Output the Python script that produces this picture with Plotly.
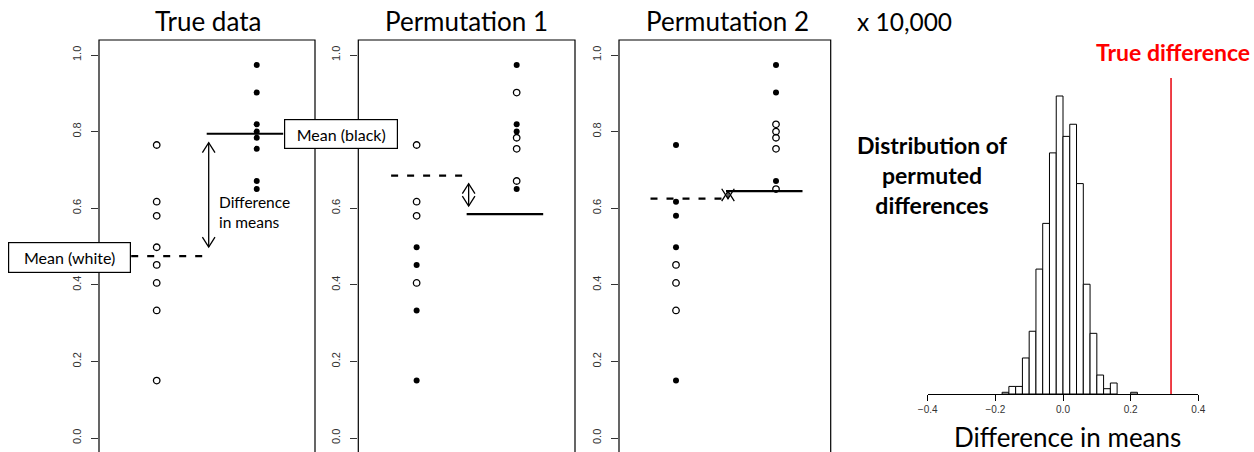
import plotly.graph_objects as go

# ---------------- data ----------------
col1_values = [0.765, 0.617, 0.580, 0.498, 0.452, 0.405, 0.333, 0.150]   # white group (true data)
col2_values = [0.974, 0.902, 0.819, 0.800, 0.784, 0.755, 0.671, 0.650]   # black group (true data)

# filled (black) flags for each panel
true_col1_black = [False] * 8
true_col2_black = [True] * 8
perm1_col1_black = [False, False, False, True, True, False, True, True]
perm1_col2_black = [True, False, True, True, False, False, False, True]
perm2_col1_black = [True, True, True, True, False, False, False, True]
perm2_col2_black = [True, True, False, False, False, False, True, False]

panel_titles = ["True data", "Permutation 1", "Permutation 2"]
y_tick_vals = [0.0, 0.2, 0.4, 0.6, 0.8, 1.0]
y_tick_text = ["0.0", "0.2", "0.4", "0.6", "0.8", "1.0"]

hist_bin_centers = [-0.17, -0.15, -0.13, -0.11, -0.09, -0.07, -0.05, -0.03, -0.01,
                    0.01, 0.03, 0.05, 0.07, 0.09, 0.11, 0.13, 0.15, 0.21]
hist_counts = [9, 40, 40, 190, 331, 659, 900, 1272, 1572,
               1359, 1423, 1110, 579, 320, 100, 28, 58, 9]
hist_tick_vals = [-0.4, -0.2, 0.0, 0.2, 0.4]
hist_tick_text = ["\u22120.4", "\u22120.2", "0.0", "0.2", "0.4"]

# ---------------- layout helpers ----------------
W, H = 1254, 452
def fx(p):
    return p / W
def fy(p):
    return 1 - p / H

FONT = "Lato"
RFONT = "Liberation Sans"

panels = [
    dict(px=(99, 315), xr=(0.423, 2.583), flags=(true_col1_black, true_col2_black), gap=0.0235),
    dict(px=(358.3, 575), xr=(0.417, 2.583), flags=(perm1_col1_black, perm1_col2_black), gap=0.021),
    dict(px=(619, 830.7), xr=(0.43, 2.547), flags=(perm2_col1_black, perm2_col2_black), gap=0.0),
]
y_range = [(438 - 452) / 383, (438 - 40) / 383]

fig = go.Figure()
shapes = []
annotations = []
arrow_x = 1.52
hw, hl = 0.063, 0.026

for i, p in enumerate(panels):
    n = "" if i == 0 else str(i + 1)
    xa, ya = "x" + n, "y" + n
    f1, f2 = p["flags"]
    xs = [1] * len(col1_values) + [2] * len(col2_values)
    ys = col1_values + col2_values
    fl = f1 + f2
    open_x = [x for x, f in zip(xs, fl) if not f]
    open_y = [y for y, f in zip(ys, fl) if not f]
    fill_x = [x for x, f in zip(xs, fl) if f]
    fill_y = [y for y, f in zip(ys, fl) if f]
    fig.add_trace(go.Scatter(x=open_x, y=open_y, mode="markers", xaxis=xa, yaxis=ya,
                             marker=dict(symbol="circle-open", size=6.5, color="black",
                                         line=dict(width=1.3, color="black")),
                             showlegend=False, hoverinfo="skip"))
    fig.add_trace(go.Scatter(x=fill_x, y=fill_y, mode="markers", xaxis=xa, yaxis=ya,
                             marker=dict(symbol="circle", size=6, color="black"),
                             showlegend=False, hoverinfo="skip"))
    m_open = sum(open_y) / len(open_y)
    m_fill = sum(fill_y) / len(fill_y)
    fig.add_trace(go.Scatter(x=[0.745, 1.5], y=[m_open, m_open], mode="lines", xaxis=xa, yaxis=ya,
                             line=dict(color="black", width=2.2, dash="7px,9px"),
                             showlegend=False, hoverinfo="skip"))
    fig.add_trace(go.Scatter(x=[1.5, 2.265], y=[m_fill, m_fill], mode="lines", xaxis=xa, yaxis=ya,
                             line=dict(color="black", width=2.2),
                             showlegend=False, hoverinfo="skip"))
    # double-headed arrow between means
    hi, lo = max(m_open, m_fill), min(m_open, m_fill)
    yt, yb = hi - p["gap"], lo + p["gap"]
    shapes.append(dict(type="line", xref=xa, yref=ya, x0=arrow_x, x1=arrow_x, y0=yb, y1=yt,
                       line=dict(color="black", width=1.3)))
    shapes.append(dict(type="path", xref=xa, yref=ya,
                       path=f"M{arrow_x-hw},{yt-hl} L{arrow_x},{yt} L{arrow_x+hw},{yt-hl}",
                       line=dict(color="black", width=1.3)))
    shapes.append(dict(type="path", xref=xa, yref=ya,
                       path=f"M{arrow_x-hw},{yb+hl} L{arrow_x},{yb} L{arrow_x+hw},{yb+hl}",
                       line=dict(color="black", width=1.3)))
    # panel box
    shapes.append(dict(type="rect", xref=xa + " domain", yref=ya + " domain",
                       x0=0, x1=1, y0=-0.05, y1=1, line=dict(color="black", width=1.2),
                       fillcolor="rgba(0,0,0,0)"))
    fig.update_layout(**{
        ("xaxis" + n): dict(domain=[fx(p["px"][0]), fx(p["px"][1])], range=list(p["xr"]),
                            visible=False, anchor=ya, automargin=False),
        ("yaxis" + n): dict(domain=[0, fy(40)], range=y_range, anchor=xa, automargin=False,
                            tickvals=y_tick_vals, ticktext=y_tick_text, tickangle=-90,
                            ticks="outside", ticklen=7, tickcolor="#333", tickwidth=1,
                            showgrid=False, zeroline=False, showline=False,
                            tickfont=dict(family=RFONT, size=11, color="#333"),
                            ticklabelstandoff=6),
    })
    # title
    title_cx = [207.5, 466.7, 727][i]
    annotations.append(dict(text=panel_titles[i], xref="paper", yref="paper",
                            x=fx(title_cx), y=fy(21), xanchor="center", yanchor="middle",
                            showarrow=False, font=dict(family=FONT, size=26, color="black")))

# ---------------- histogram ----------------
fig.add_trace(go.Bar(x=hist_bin_centers, y=hist_counts, width=0.02, xaxis="x4", yaxis="y4",
                     marker=dict(color="white", line=dict(color="black", width=1)),
                     showlegend=False, hoverinfo="skip"))
true_diff = sum(col2_values) / len(col2_values) - sum(col1_values) / len(col1_values)
shapes.append(dict(type="line", xref="x4", yref="y4 domain", x0=true_diff, x1=true_diff,
                   y0=0, y1=1, line=dict(color="#e8000b", width=1.5)))
fig.update_layout(
    xaxis4=dict(domain=[fx(927.7), fx(1198.3)], range=[-0.4, 0.4], anchor="y4", automargin=False,
                tickvals=hist_tick_vals, ticktext=hist_tick_text, ticks="outside", ticklen=6,
                showline=True, linecolor="black", linewidth=1, tickcolor="black",
                showgrid=False, zeroline=False,
                tickfont=dict(family=RFONT, size=10, color="#333")),
    yaxis4=dict(domain=[fy(394), fy(78)], range=[0, 1667], anchor="x4", visible=False,
                automargin=False),
)

# ---------------- text annotations ----------------
def box(text, cx, cy, w, h):
    return dict(text=text, xref="paper", yref="paper", x=fx(cx), y=fy(cy),
                xanchor="center", yanchor="middle", showarrow=False,
                width=w, height=h, bgcolor="white", bordercolor="black", borderwidth=1.2,
                borderpad=0, font=dict(family=FONT, size=16, color="black"))

annotations += [
    box("Mean (white)", 69.5, 257.5, 121, 29),
    box("Mean (black)", 341, 133.5, 112, 28),
    dict(text="Difference<br>in means", xref="paper", yref="paper", x=fx(217), y=fy(212),
         xanchor="left", yanchor="middle", align="left", showarrow=False,
         font=dict(family=FONT, size=15.5, color="black")),
    dict(text="x 10,000", xref="paper", yref="paper", x=fx(904.5), y=fy(21),
         xanchor="center", yanchor="middle", showarrow=False,
         font=dict(family=FONT, size=24.5, color="black")),
    dict(text="<b>True difference</b>", xref="paper", yref="paper", x=fx(1173), y=fy(52),
         xanchor="center", yanchor="middle", showarrow=False,
         font=dict(family=FONT, size=23, color="#ff0000")),
    dict(text="<b>Distribution of<br>permuted<br>differences</b>", xref="paper", yref="paper",
         x=fx(932), y=fy(175), xanchor="center", yanchor="middle", align="center",
         showarrow=False, font=dict(family=FONT, size=23, color="black")),
    dict(text="Difference in means", xref="paper", yref="paper", x=fx(1067.5), y=fy(436.5),
         xanchor="center", yanchor="middle", showarrow=False,
         font=dict(family=FONT, size=26, color="black")),
]

fig.update_layout(width=W, height=H, margin=dict(l=0, r=0, t=0, b=0, autoexpand=False),
                  paper_bgcolor="white", plot_bgcolor="white",
                  shapes=shapes, annotations=annotations, showlegend=False)

fig.write_html("out.html", config={"displayModeBar": False},
               post_script="document.body.style.margin='0';document.body.style.overflow='hidden';")
